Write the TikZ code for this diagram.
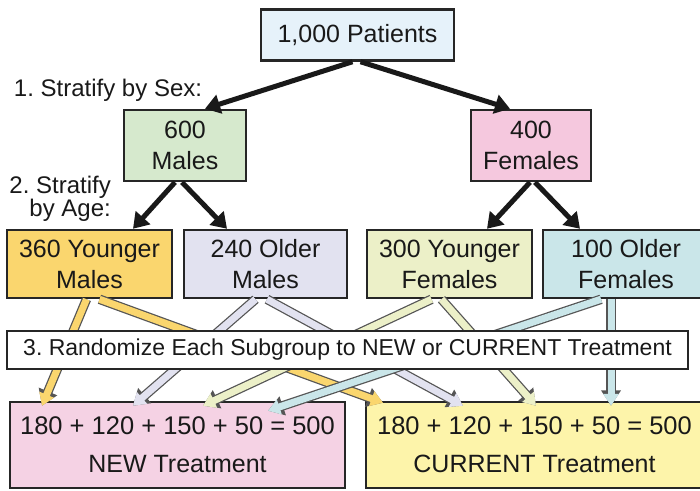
\documentclass[tikz,border=0pt]{standalone}
\usepackage{fontspec}
\setmainfont{Liberation Sans}
\frenchspacing
\usetikzlibrary{arrows.meta,positioning}
\definecolor{cpat}{RGB}{230,242,250}
\definecolor{cmale}{RGB}{214,233,205}
\definecolor{cfem}{RGB}{245,200,222}
\definecolor{cym}{RGB}{250,214,110}
\definecolor{com}{RGB}{226,226,240}
\definecolor{cyf}{RGB}{236,240,200}
\definecolor{cof}{RGB}{202,230,233}
\definecolor{cnew}{RGB}{245,210,228}
\definecolor{ccur}{RGB}{253,244,170}
\definecolor{cedge}{RGB}{85,85,85}
\tikzset{
  grp/.style={rectangle,draw=black!85,line width=2.5pt,inner sep=0pt,
    align=center,font=\fontsize{25}{31}\selectfont,text=black!90},
  tag/.style={inner sep=0pt,align=right,font=\fontsize{24}{19}\selectfont,
    text=black!90},
  split/.style={line width=5pt,draw=black!90,
    -{Triangle[length=15pt,width=19pt]}},
  % randomisation arrows: coloured shaft with a grey rim
  rnd/.style={line width=7pt,draw=#1,-{Triangle[length=12pt,width=15pt]},
    preaction={draw=cedge,line width=9.5pt,
      -{Triangle[length=15.5pt,width=19pt]}}}
}
\newcommand{\eqline}{{\fontsize{25.5}{38}\selectfont 180 + 120 + 150 + 50 = 500}}

\begin{document}
\begin{tikzpicture}[x=1pt,y=-1pt]
  \useasboundingbox[fill=white] (0,0) rectangle (700,490);
  \node[grp,fill=cpat,minimum width=193pt,minimum height=51pt] (pat) at (357.5,35) {1,000 Patients};
  \node[grp,fill=cmale,minimum width=122pt,minimum height=71pt] (male) at (185,145.5) {600\\Males};
  \node[grp,fill=cfem,minimum width=120pt,minimum height=71pt] (fem) at (531,145.5) {400\\Females};
  \node[tag] (sex) at (108,90) {1. Stratify by Sex:};
  \node[tag,anchor=east] (age) at (111,199) {2. Stratify\\by Age:};
  % subgroups
  \node[grp,fill=cym,minimum width=165pt,minimum height=68pt] (ym) at (89.5,264) {360 Younger\\Males};
  \node[grp,fill=com,minimum width=163pt,minimum height=68pt] (om) at (265.5,264) {240 Older\\Males};
  \node[grp,fill=cyf,minimum width=165pt,minimum height=68pt] (yf) at (449.5,264) {300 Younger\\Females};
  \node[grp,fill=cof,minimum width=166pt,minimum height=68pt] (of) at (626,264) {100 Older\\Females};
  % treatment arms
  \node[grp,fill=cnew,minimum width=335pt,minimum height=86pt,
    font=\fontsize{25}{38}\selectfont] (new) at (177.5,445) {\eqline\\NEW Treatment};
  \node[grp,fill=ccur,minimum width=337pt,minimum height=86pt,
    font=\fontsize{25}{38}\selectfont] (cur) at (534.5,445) {\eqline\\CURRENT Treatment};
  \draw[split] ([xshift=-5pt]pat.south) -- ([xshift=20pt]male.north);
  \draw[split] ([xshift=3pt]pat.south) -- ([xshift=-21pt]fem.north);
  \draw[split] ([xshift=-10pt]male.south) -- ([xshift=43.5pt]ym.north);
  \draw[split] ([xshift=-3pt]male.south) -- ([xshift=-38.5pt]om.north);
  \draw[split] ([xshift=-1pt]fem.south) -- ([xshift=37.5pt]yf.north);
  \draw[split] ([xshift=4pt]fem.south) -- ([xshift=-46pt]of.north);
  \draw[rnd=cym] ([xshift=-3pt]ym.south) -- ([xshift=-135.5pt,yshift=-5pt]new.north);
  \draw[rnd=cym] ([xshift=10pt]ym.south) -- ([xshift=-151.5pt,yshift=-2pt]cur.north);
  \draw[rnd=com] ([xshift=-10pt]om.south) -- ([xshift=-44.5pt,yshift=-5pt]new.north);
  \draw[rnd=com] ([xshift=1.5pt]om.south) -- ([xshift=-71.5pt,yshift=-5pt]cur.north);
  \draw[rnd=cyf] ([xshift=-18pt]yf.south) -- ([xshift=25.5pt,yshift=-5pt]new.north);
  \draw[rnd=cyf] ([xshift=-8pt]yf.south) -- ([xshift=1.5pt,yshift=-5pt]cur.north);
  \draw[rnd=cof] ([xshift=-25pt]of.south) -- ([xshift=90.5pt,yshift=-10pt]new.north);
  \draw[rnd=cof] ([xshift=-15pt]of.south) -- ([xshift=76.5pt,yshift=-5pt]cur.north);
  \node[grp,fill=white,line width=2pt,minimum width=681pt,minimum height=38pt,
    font=\fontsize{23}{27}\selectfont] (rand) at (347.5,350)
    {3. Randomize Each Subgroup to NEW or CURRENT Treatment};
\end{tikzpicture}
\end{document}
